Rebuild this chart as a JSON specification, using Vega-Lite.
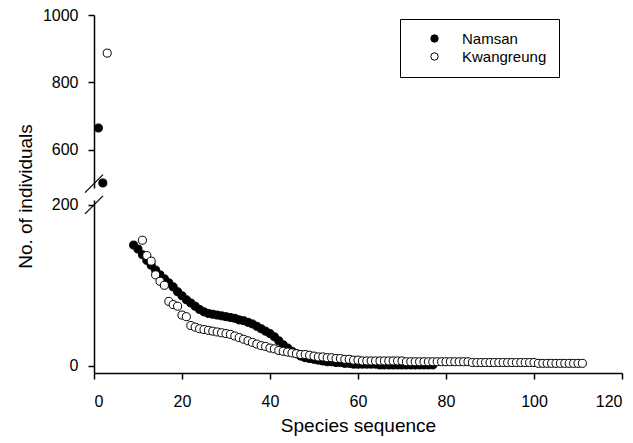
{
"$schema": "https://vega.github.io/schema/vega-lite/v6.json",
"background": "white",
"padding": {"left": 15, "top": 7, "right": 5, "bottom": 5},
"bounds": "flush",
"spacing": 12,
"config": {
  "view": {"stroke": null},
  "font": "Liberation Sans",
  "axis": {"domainColor": "black", "domainWidth": 1.5, "tickColor": "black", "tickWidth": 1.5, "tickSize": 6, "labelColor": "black", "labelFont": "Liberation Sans", "labelFontSize": 16, "titleFont": "Liberation Sans", "titleFontSize": 19, "titleFontWeight": "normal", "titleColor": "black", "grid": false, "format": "d"},
  "legend": {"title": null, "orient": "none", "legendX": 306, "legendY": 4, "strokeColor": "black", "fillColor": "white", "padding": 12, "symbolOffset": 15, "labelOffset": 20, "symbolType": "circle", "symbolSize": 55, "symbolStrokeColor": "black", "symbolStrokeWidth": 1, "labelFont": "Liberation Sans", "labelFontSize": 15, "labelColor": "black", "rowPadding": 2}
},
"datasets": {
  "obs": [
    {"site": "Namsan", "species": 1, "individuals": 665},
    {"site": "Namsan", "species": 2, "individuals": 502},
    {"site": "Namsan", "species": 9, "individuals": 150},
    {"site": "Namsan", "species": 10, "individuals": 145},
    {"site": "Namsan", "species": 11, "individuals": 138},
    {"site": "Namsan", "species": 12, "individuals": 131},
    {"site": "Namsan", "species": 13, "individuals": 125},
    {"site": "Namsan", "species": 14, "individuals": 119},
    {"site": "Namsan", "species": 15, "individuals": 113},
    {"site": "Namsan", "species": 16, "individuals": 108},
    {"site": "Namsan", "species": 17, "individuals": 103},
    {"site": "Namsan", "species": 18, "individuals": 98},
    {"site": "Namsan", "species": 19, "individuals": 92},
    {"site": "Namsan", "species": 20, "individuals": 87},
    {"site": "Namsan", "species": 21, "individuals": 82},
    {"site": "Namsan", "species": 22, "individuals": 78},
    {"site": "Namsan", "species": 23, "individuals": 74},
    {"site": "Namsan", "species": 24, "individuals": 70},
    {"site": "Namsan", "species": 25, "individuals": 67},
    {"site": "Namsan", "species": 26, "individuals": 65},
    {"site": "Namsan", "species": 27, "individuals": 64},
    {"site": "Namsan", "species": 28, "individuals": 63},
    {"site": "Namsan", "species": 29, "individuals": 62},
    {"site": "Namsan", "species": 30, "individuals": 61},
    {"site": "Namsan", "species": 31, "individuals": 60},
    {"site": "Namsan", "species": 32, "individuals": 59},
    {"site": "Namsan", "species": 33, "individuals": 57},
    {"site": "Namsan", "species": 34, "individuals": 56},
    {"site": "Namsan", "species": 35, "individuals": 54},
    {"site": "Namsan", "species": 36, "individuals": 52},
    {"site": "Namsan", "species": 37, "individuals": 49},
    {"site": "Namsan", "species": 38, "individuals": 46},
    {"site": "Namsan", "species": 39, "individuals": 43},
    {"site": "Namsan", "species": 40, "individuals": 40},
    {"site": "Namsan", "species": 41, "individuals": 36},
    {"site": "Namsan", "species": 42, "individuals": 31},
    {"site": "Namsan", "species": 43, "individuals": 26},
    {"site": "Namsan", "species": 44, "individuals": 22},
    {"site": "Namsan", "species": 45, "individuals": 18},
    {"site": "Namsan", "species": 46, "individuals": 15},
    {"site": "Namsan", "species": 47, "individuals": 12},
    {"site": "Namsan", "species": 48, "individuals": 10},
    {"site": "Namsan", "species": 49, "individuals": 9},
    {"site": "Namsan", "species": 50, "individuals": 8},
    {"site": "Namsan", "species": 51, "individuals": 7},
    {"site": "Namsan", "species": 52, "individuals": 6},
    {"site": "Namsan", "species": 53, "individuals": 5},
    {"site": "Namsan", "species": 54, "individuals": 5},
    {"site": "Namsan", "species": 55, "individuals": 4},
    {"site": "Namsan", "species": 56, "individuals": 4},
    {"site": "Namsan", "species": 57, "individuals": 3},
    {"site": "Namsan", "species": 58, "individuals": 3},
    {"site": "Namsan", "species": 59, "individuals": 2},
    {"site": "Namsan", "species": 60, "individuals": 2},
    {"site": "Namsan", "species": 61, "individuals": 2},
    {"site": "Namsan", "species": 62, "individuals": 2},
    {"site": "Namsan", "species": 63, "individuals": 2},
    {"site": "Namsan", "species": 64, "individuals": 2},
    {"site": "Namsan", "species": 65, "individuals": 1},
    {"site": "Namsan", "species": 66, "individuals": 1},
    {"site": "Namsan", "species": 67, "individuals": 1},
    {"site": "Namsan", "species": 68, "individuals": 1},
    {"site": "Namsan", "species": 69, "individuals": 1},
    {"site": "Namsan", "species": 70, "individuals": 1},
    {"site": "Namsan", "species": 71, "individuals": 1},
    {"site": "Namsan", "species": 72, "individuals": 1},
    {"site": "Namsan", "species": 73, "individuals": 1},
    {"site": "Namsan", "species": 74, "individuals": 1},
    {"site": "Namsan", "species": 75, "individuals": 1},
    {"site": "Namsan", "species": 76, "individuals": 1},
    {"site": "Namsan", "species": 77, "individuals": 1},
    {"site": "Kwangreung", "species": 3, "individuals": 887},
    {"site": "Kwangreung", "species": 11, "individuals": 156},
    {"site": "Kwangreung", "species": 12, "individuals": 137},
    {"site": "Kwangreung", "species": 13, "individuals": 130},
    {"site": "Kwangreung", "species": 14, "individuals": 113},
    {"site": "Kwangreung", "species": 15, "individuals": 105},
    {"site": "Kwangreung", "species": 16, "individuals": 100},
    {"site": "Kwangreung", "species": 17, "individuals": 80},
    {"site": "Kwangreung", "species": 18, "individuals": 76},
    {"site": "Kwangreung", "species": 19, "individuals": 74},
    {"site": "Kwangreung", "species": 20, "individuals": 63},
    {"site": "Kwangreung", "species": 21, "individuals": 61},
    {"site": "Kwangreung", "species": 22, "individuals": 50},
    {"site": "Kwangreung", "species": 23, "individuals": 48},
    {"site": "Kwangreung", "species": 24, "individuals": 46},
    {"site": "Kwangreung", "species": 25, "individuals": 45},
    {"site": "Kwangreung", "species": 26, "individuals": 44},
    {"site": "Kwangreung", "species": 27, "individuals": 43},
    {"site": "Kwangreung", "species": 28, "individuals": 42},
    {"site": "Kwangreung", "species": 29, "individuals": 41},
    {"site": "Kwangreung", "species": 30, "individuals": 40},
    {"site": "Kwangreung", "species": 31, "individuals": 39},
    {"site": "Kwangreung", "species": 32, "individuals": 37},
    {"site": "Kwangreung", "species": 33, "individuals": 35},
    {"site": "Kwangreung", "species": 34, "individuals": 33},
    {"site": "Kwangreung", "species": 35, "individuals": 31},
    {"site": "Kwangreung", "species": 36, "individuals": 29},
    {"site": "Kwangreung", "species": 37, "individuals": 27},
    {"site": "Kwangreung", "species": 38, "individuals": 25},
    {"site": "Kwangreung", "species": 39, "individuals": 24},
    {"site": "Kwangreung", "species": 40, "individuals": 22},
    {"site": "Kwangreung", "species": 41, "individuals": 21},
    {"site": "Kwangreung", "species": 42, "individuals": 19},
    {"site": "Kwangreung", "species": 43, "individuals": 18},
    {"site": "Kwangreung", "species": 44, "individuals": 17},
    {"site": "Kwangreung", "species": 45, "individuals": 16},
    {"site": "Kwangreung", "species": 46, "individuals": 15},
    {"site": "Kwangreung", "species": 47, "individuals": 14},
    {"site": "Kwangreung", "species": 48, "individuals": 14},
    {"site": "Kwangreung", "species": 49, "individuals": 13},
    {"site": "Kwangreung", "species": 50, "individuals": 12},
    {"site": "Kwangreung", "species": 51, "individuals": 11},
    {"site": "Kwangreung", "species": 52, "individuals": 11},
    {"site": "Kwangreung", "species": 53, "individuals": 10},
    {"site": "Kwangreung", "species": 54, "individuals": 10},
    {"site": "Kwangreung", "species": 55, "individuals": 9},
    {"site": "Kwangreung", "species": 56, "individuals": 9},
    {"site": "Kwangreung", "species": 57, "individuals": 8},
    {"site": "Kwangreung", "species": 58, "individuals": 8},
    {"site": "Kwangreung", "species": 59, "individuals": 7},
    {"site": "Kwangreung", "species": 60, "individuals": 7},
    {"site": "Kwangreung", "species": 61, "individuals": 6},
    {"site": "Kwangreung", "species": 62, "individuals": 6},
    {"site": "Kwangreung", "species": 63, "individuals": 6},
    {"site": "Kwangreung", "species": 64, "individuals": 6},
    {"site": "Kwangreung", "species": 65, "individuals": 6},
    {"site": "Kwangreung", "species": 66, "individuals": 6},
    {"site": "Kwangreung", "species": 67, "individuals": 6},
    {"site": "Kwangreung", "species": 68, "individuals": 6},
    {"site": "Kwangreung", "species": 69, "individuals": 6},
    {"site": "Kwangreung", "species": 70, "individuals": 6},
    {"site": "Kwangreung", "species": 71, "individuals": 5},
    {"site": "Kwangreung", "species": 72, "individuals": 5},
    {"site": "Kwangreung", "species": 73, "individuals": 5},
    {"site": "Kwangreung", "species": 74, "individuals": 5},
    {"site": "Kwangreung", "species": 75, "individuals": 5},
    {"site": "Kwangreung", "species": 76, "individuals": 5},
    {"site": "Kwangreung", "species": 77, "individuals": 5},
    {"site": "Kwangreung", "species": 78, "individuals": 5},
    {"site": "Kwangreung", "species": 79, "individuals": 5},
    {"site": "Kwangreung", "species": 80, "individuals": 5},
    {"site": "Kwangreung", "species": 81, "individuals": 5},
    {"site": "Kwangreung", "species": 82, "individuals": 5},
    {"site": "Kwangreung", "species": 83, "individuals": 5},
    {"site": "Kwangreung", "species": 84, "individuals": 5},
    {"site": "Kwangreung", "species": 85, "individuals": 5},
    {"site": "Kwangreung", "species": 86, "individuals": 4},
    {"site": "Kwangreung", "species": 87, "individuals": 4},
    {"site": "Kwangreung", "species": 88, "individuals": 4},
    {"site": "Kwangreung", "species": 89, "individuals": 4},
    {"site": "Kwangreung", "species": 90, "individuals": 4},
    {"site": "Kwangreung", "species": 91, "individuals": 4},
    {"site": "Kwangreung", "species": 92, "individuals": 4},
    {"site": "Kwangreung", "species": 93, "individuals": 4},
    {"site": "Kwangreung", "species": 94, "individuals": 4},
    {"site": "Kwangreung", "species": 95, "individuals": 4},
    {"site": "Kwangreung", "species": 96, "individuals": 4},
    {"site": "Kwangreung", "species": 97, "individuals": 4},
    {"site": "Kwangreung", "species": 98, "individuals": 4},
    {"site": "Kwangreung", "species": 99, "individuals": 4},
    {"site": "Kwangreung", "species": 100, "individuals": 4},
    {"site": "Kwangreung", "species": 101, "individuals": 3},
    {"site": "Kwangreung", "species": 102, "individuals": 3},
    {"site": "Kwangreung", "species": 103, "individuals": 3},
    {"site": "Kwangreung", "species": 104, "individuals": 3},
    {"site": "Kwangreung", "species": 105, "individuals": 3},
    {"site": "Kwangreung", "species": 106, "individuals": 3},
    {"site": "Kwangreung", "species": 107, "individuals": 3},
    {"site": "Kwangreung", "species": 108, "individuals": 3},
    {"site": "Kwangreung", "species": 109, "individuals": 3},
    {"site": "Kwangreung", "species": 110, "individuals": 3},
    {"site": "Kwangreung", "species": 111, "individuals": 3}
  ]
},
"vconcat": [
  {
    "width": 528,
    "height": 173,
    "layer": [
      {
        "data": {"name": "obs"},
        "transform": [{"filter": "datum.individuals >= 487"}],
        "mark": {"type": "point", "filled": true, "stroke": "black", "strokeWidth": 1, "size": 65, "opacity": 1},
        "encoding": {
          "x": {"field": "species", "type": "quantitative", "scale": {"domain": [0, 120], "nice": false}, "axis": null},
          "y": {"field": "individuals", "type": "quantitative", "scale": {"domain": [487, 1000], "nice": false, "zero": false}, "axis": {"values": [600, 800, 1000], "title": null, "labelPadding": 10}},
          "fill": {"field": "site", "type": "nominal", "scale": {"domain": ["Namsan", "Kwangreung"], "range": ["black", "white"]}}
        }
      },
      {
        "data": {"values": [{}]},
        "mark": {"type": "point", "shape": "M -1 1 L 1 -1", "size": 324, "filled": false, "stroke": "black", "strokeWidth": 1.2, "opacity": 1},
        "encoding": {"x": {"datum": 0}, "y": {"datum": 500}}
      }
    ]
  },
  {
    "width": 528,
    "height": 173,
    "layer": [
      {
        "data": {"name": "obs"},
        "transform": [{"filter": "datum.individuals <= 206"}],
        "mark": {"type": "point", "filled": true, "stroke": "black", "strokeWidth": 1, "size": 65, "opacity": 1},
        "encoding": {
          "x": {"field": "species", "type": "quantitative", "scale": {"domain": [0, 120], "nice": false}, "axis": {"values": [0, 20, 40, 60, 80, 100, 120], "title": "Species sequence", "labelPadding": 14, "titlePadding": 7}},
          "y": {"field": "individuals", "type": "quantitative", "scale": {"domain": [-9, 206], "nice": false, "zero": false}, "axis": {"values": [0, 200], "title": "No. of individuals", "labelPadding": 10, "titleX": -69, "titleY": -4, "titleBaseline": "middle"}},
          "fill": {"field": "site", "type": "nominal", "scale": {"domain": ["Namsan", "Kwangreung"], "range": ["black", "white"]}}
        }
      },
      {
        "data": {"values": [{}]},
        "mark": {"type": "point", "shape": "M -1 1 L 1 -1", "size": 324, "filled": false, "stroke": "black", "strokeWidth": 1.2, "opacity": 1},
        "encoding": {"x": {"datum": 0}, "y": {"datum": 200}}
      }
    ]
  }
]
}
